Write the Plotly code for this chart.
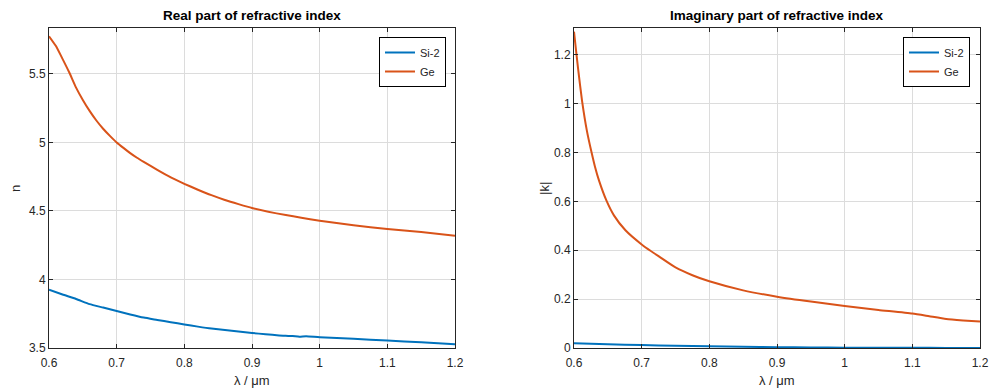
import plotly.graph_objects as go

# ---- data ----
lam_ge_n = [0.60, 0.61, 0.62, 0.63, 0.64, 0.65, 0.66, 0.67, 0.68, 0.69, 0.70, 0.71, 0.72, 0.73, 0.74,
            0.76, 0.78, 0.80, 0.82, 0.84, 0.86, 0.88, 0.90, 0.95, 1.00, 1.05, 1.10, 1.15, 1.20]
ge_n = [5.775, 5.705, 5.61, 5.51, 5.40, 5.31, 5.23, 5.16, 5.10, 5.048, 5.00, 4.96, 4.922, 4.888, 4.858,
        4.80, 4.745, 4.698, 4.655, 4.615, 4.58, 4.55, 4.522, 4.47, 4.429, 4.396, 4.368, 4.346, 4.319]

lam_si_n = [0.60, 0.62, 0.64, 0.66, 0.68, 0.70, 0.72, 0.74, 0.76, 0.78, 0.80, 0.82, 0.84, 0.86, 0.88,
            0.90, 0.92, 0.94, 0.96, 0.97, 0.98, 1.00, 1.05, 1.10, 1.15, 1.20]
si_n = [3.925, 3.89, 3.858, 3.820, 3.795, 3.770, 3.745, 3.722, 3.705, 3.688, 3.672, 3.656, 3.642, 3.632, 3.620,
        3.610, 3.600, 3.592, 3.587, 3.582, 3.586, 3.578, 3.567, 3.554, 3.542, 3.528]

lam_ge_k = [0.600, 0.603, 0.606, 0.609, 0.612, 0.619, 0.626, 0.631, 0.637, 0.648, 0.659, 0.676, 0.700, 0.713,
            0.726, 0.750, 0.775, 0.800, 0.850, 0.900, 0.950, 1.000, 1.050, 1.100, 1.125, 1.150, 1.175, 1.200]
ge_k = [1.295, 1.218, 1.145, 1.075, 1.010, 0.890, 0.800, 0.742, 0.685, 0.603, 0.543, 0.482, 0.424, 0.398,
        0.374, 0.330, 0.298, 0.273, 0.236, 0.210, 0.190, 0.172, 0.156, 0.141, 0.130, 0.119, 0.113, 0.108]

lam_si_k = [0.60, 0.65, 0.70, 0.75, 0.80, 0.85, 0.90, 0.95, 1.00, 1.05, 1.10, 1.15, 1.20]
si_k = [0.019, 0.015, 0.012, 0.009, 0.007, 0.005, 0.0035, 0.0025, 0.0015, 0.001, 0.0007, 0.0004, 0.0002]

blue = "#0072BD"
orange = "#D95319"
txt = "#262626"
font_family = "Liberation Sans, Arial, Helvetica, sans-serif"

line_kw = dict(width=2, shape="spline", smoothing=0.5)

fig = go.Figure()
fig.add_trace(go.Scatter(x=lam_si_n, y=si_n, mode="lines", name="Si-2", line=dict(color=blue, **line_kw),
                         xaxis="x", yaxis="y", legend="legend"))
fig.add_trace(go.Scatter(x=lam_ge_n, y=ge_n, mode="lines", name="Ge", line=dict(color=orange, **line_kw),
                         xaxis="x", yaxis="y", legend="legend"))
fig.add_trace(go.Scatter(x=lam_si_k, y=si_k, mode="lines", name="Si-2", line=dict(color=blue, **line_kw),
                         xaxis="x2", yaxis="y2", legend="legend2"))
fig.add_trace(go.Scatter(x=lam_ge_k, y=ge_k, mode="lines", name="Ge", line=dict(color=orange, **line_kw),
                         xaxis="x2", yaxis="y2", legend="legend2"))

W, H = 999, 392
L, R, T, B = 49, 19, 28, 44
pw = W - L - R
ph = H - T - B
d1 = [0, (455 - L) / pw]
d2 = [(574 - L) / pw, 1]

axis_common = dict(showline=True, linecolor=txt, linewidth=1, mirror="ticks", ticks="inside", ticklen=4,
                   tickcolor=txt, showgrid=True, gridcolor="#dcdcdc", gridwidth=1, zeroline=False,
                   tickfont=dict(family=font_family, size=12, color=txt))
xaxis_extra = dict(ticklabelstandoff=4)

leg_common = dict(xanchor="right", yanchor="top", bordercolor="#000000", borderwidth=1, bgcolor="white",
                  font=dict(family=font_family, size=11, color=txt), tracegroupgap=0, itemwidth=30)

def px_x(p):
    return (p - L) / pw

def px_y(p):
    return (T + ph - p) / ph

ann_font = dict(family=font_family, size=13, color=txt)
title_font = dict(family=font_family, size=13.5, color="#000000")

fig.update_layout(
    width=W, height=H,
    margin=dict(l=L, r=R, t=T, b=B, autoexpand=False),
    paper_bgcolor="white", plot_bgcolor="white",
    font=dict(family=font_family, size=12, color=txt),
    xaxis=dict(domain=d1, range=[0.6, 1.2], dtick=0.1, tick0=0.6, anchor="y", **axis_common, **xaxis_extra),
    yaxis=dict(domain=[0, 1], range=[3.5, 5.835], dtick=0.5, tick0=3.5, anchor="x", **axis_common),
    xaxis2=dict(domain=d2, range=[0.6, 1.2], dtick=0.1, tick0=0.6, anchor="y2", **axis_common, **xaxis_extra),
    yaxis2=dict(domain=[0, 1], range=[0, 1.31], dtick=0.2, tick0=0, anchor="x2", **axis_common),
    legend=dict(x=px_x(446), y=px_y(37), **leg_common),
    legend2=dict(x=px_x(970), y=px_y(37), **leg_common),
    showlegend=True,
    annotations=[
        dict(text="<b>Real part of refractive index</b>", xref="paper", yref="paper",
             x=(d1[0] + d1[1]) / 2, y=px_y(15), xanchor="center", yanchor="middle",
             showarrow=False, font=title_font),
        dict(text="<b>Imaginary part of refractive index</b>", xref="paper", yref="paper",
             x=(d2[0] + d2[1]) / 2, y=px_y(15), xanchor="center", yanchor="middle",
             showarrow=False, font=title_font),
        dict(text="λ / μm", xref="paper", yref="paper", x=(d1[0] + d1[1]) / 2, y=px_y(380),
             xanchor="center", yanchor="middle", showarrow=False, font=ann_font),
        dict(text="λ / μm", xref="paper", yref="paper", x=(d2[0] + d2[1]) / 2, y=px_y(380),
             xanchor="center", yanchor="middle", showarrow=False, font=ann_font),
        dict(text="n", xref="paper", yref="paper", x=px_x(15), y=px_y(189), textangle=-90,
             xanchor="center", yanchor="middle", showarrow=False, font=ann_font),
        dict(text="|k|", xref="paper", yref="paper", x=px_x(544), y=px_y(189), textangle=-90,
             xanchor="center", yanchor="middle", showarrow=False, font=ann_font),
    ],
)

fig.write_html("out.html", post_script="document.body.style.margin='0';",
               config={"displayModeBar": False})
